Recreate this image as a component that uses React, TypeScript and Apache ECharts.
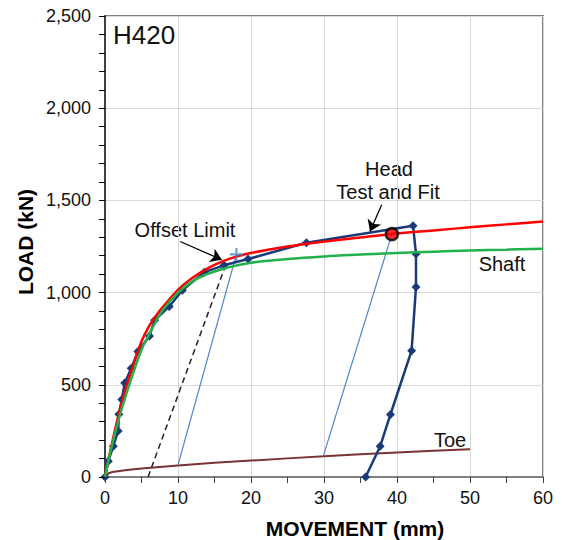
import React, { useEffect, useRef } from "react";
import * as echarts from "echarts";

// Head test data (movement mm, load kN)
const headX = [0, 0.45, 1.14, 1.8, 1.9, 2.3, 2.7, 3.6, 4.5, 6.1, 6.8, 8.8, 10.6, 13.6, 16.3, 19.6, 27.6, 42.2, 42.6, 42.6, 42.0, 39.1, 37.7, 35.7];
const headLoad = [0, 86, 167, 250, 340, 420, 510, 590, 680, 765, 850, 925, 1013, 1111, 1148, 1182, 1270, 1362, 1210, 1030, 685, 339, 167, 0];

// Fitted head curve
const fitX = [0, 0.5, 1, 2, 3, 4, 5, 6, 7, 8, 10, 12, 14, 16, 18, 20, 25, 30, 35, 40, 45, 50, 55, 60];
const fitLoad = [0, 100, 190, 360, 500, 620, 735, 815, 875, 925, 1015, 1080, 1130, 1168, 1195, 1215, 1250, 1277, 1299, 1320, 1337, 1354, 1370, 1386];

// Shaft curve
const shaftX = [0, 0.5, 1, 2, 3, 4, 5, 6, 7, 8, 10, 12, 14, 16, 18, 20, 25, 30, 35, 40, 45, 50, 55, 60];
const shaftLoad = [0, 95, 180, 330, 460, 580, 690, 770, 845, 910, 1000, 1062, 1100, 1127, 1147, 1162, 1182, 1196, 1206, 1215, 1222, 1228, 1233, 1238];

// Toe curve
const toeX = [0, 0.5, 1, 3, 5, 10, 15, 20, 25, 30, 35, 40, 45, 50];
const toeLoad = [0, 20, 27, 38, 46, 63, 77, 89, 101, 113, 123, 133, 142, 150];

// Offset limit line
const offsetX = [5.9, 16.4];
const offsetLoad = [0, 1135];

// Unloading lines (thin blue)
const unload1X = [10.0, 18.0];
const unload1Load = [64, 1207];
const unload2X = [29.9, 39.3];
const unload2Load = [113, 1317];

// Points
const offsetLimitPoint = [18.0, 1207];
const fitPoint = [39.3, 1317];

// Annotation arrows [from, to]
const offsetArrow = [[10.3, 1277], [16.0, 1178]];
const headArrow = [[37.9, 1476], [36.3, 1331]];

// Axis ticks
const xTicks = { min: 0, max: 60, interval: 10, minorInterval: 5 };
const yTicks = { min: 0, max: 2500, interval: 500, minorInterval: 100 };

const zip = (xs: number[], ys: number[]) => xs.map((x, i) => [x, ys[i]]);

const FONT = "'Liberation Sans', Arial, sans-serif";

export default function App() {
  const ref = useRef<HTMLDivElement>(null);
  useEffect(() => {
    const chart = echarts.init(ref.current!, null, { renderer: "svg" });
    chart.setOption({
      animation: false,
      backgroundColor: "#ffffff",
      grid: {
        left: 105,
        right: 19,
        top: 16,
        bottom: 63,
        show: true,
        borderColor: "#7f7f7f",
        borderWidth: 2,
        backgroundColor: "#ffffff",
      },
      xAxis: [
        {
          type: "value",
          min: xTicks.min,
          max: xTicks.max,
          interval: xTicks.interval,
          position: "bottom",
          axisLine: { show: true, onZero: false, lineStyle: { color: "#808080", width: 2 } },
          axisTick: { show: true, inside: false, length: 6, lineStyle: { color: "#404040", width: 1 } },
          splitLine: { show: true, lineStyle: { color: "#d9d9d9", width: 1 } },
          axisLabel: { fontFamily: FONT, fontSize: 18, color: "#111", margin: 12 },
        },
        {
          type: "value",
          min: xTicks.min,
          max: xTicks.max,
          interval: xTicks.minorInterval,
          position: "bottom",
          axisLine: { show: false },
          axisTick: { show: true, inside: false, length: 6, lineStyle: { color: "#404040", width: 1 } },
          splitLine: { show: false },
          axisLabel: { show: false },
          z: 5,
        },
      ],
      yAxis: [
        {
          type: "value",
          min: yTicks.min,
          max: yTicks.max,
          interval: yTicks.interval,
          position: "left",
          axisLine: { show: true, onZero: false, lineStyle: { color: "#404040", width: 2 } },
          axisTick: { show: true, inside: false, length: 6, lineStyle: { color: "#000", width: 1 } },
          splitLine: { show: true, lineStyle: { color: "#d9d9d9", width: 1 } },
          axisLabel: {
            fontFamily: FONT,
            fontSize: 18,
            color: "#111",
            margin: 14,
            formatter: (v: number) => v.toLocaleString("en-US"),
          },
        },
        {
          type: "value",
          min: yTicks.min,
          max: yTicks.max,
          interval: yTicks.minorInterval,
          position: "left",
          axisLine: { show: false },
          axisTick: { show: true, inside: false, length: 6, lineStyle: { color: "#000", width: 1 } },
          splitLine: { show: false },
          axisLabel: { show: false },
          z: 5,
        },
      ],
      series: [
        {
          name: "Toe",
          type: "line",
          data: zip(toeX, toeLoad),
          showSymbol: false,
          lineStyle: { color: "#7a3333", width: 2 },
          z: 2,
        },
        {
          name: "Unload1",
          type: "line",
          data: zip(unload1X, unload1Load),
          showSymbol: false,
          lineStyle: { color: "#4a86c8", width: 1.2 },
          z: 2,
        },
        {
          name: "Unload2",
          type: "line",
          data: zip(unload2X, unload2Load),
          showSymbol: false,
          lineStyle: { color: "#4a86c8", width: 1.2 },
          z: 2,
        },
        {
          name: "Offset",
          type: "line",
          data: zip(offsetX, offsetLoad),
          showSymbol: false,
          lineStyle: { color: "#222", width: 1.5, type: [6, 4] },
          z: 2,
        },
        {
          name: "Head",
          type: "line",
          data: zip(headX, headLoad),
          symbol: "diamond",
          symbolSize: 9,
          itemStyle: { color: "#1b3a78" },
          lineStyle: { color: "#1b3a78", width: 2.5 },
          z: 3,
        },
        {
          name: "Fit",
          type: "line",
          data: zip(fitX, fitLoad),
          showSymbol: false,
          smooth: 0.4,
          lineStyle: { color: "#ff0000", width: 2.5 },
          z: 4,
        },
        {
          name: "Shaft",
          type: "line",
          data: zip(shaftX, shaftLoad),
          showSymbol: false,
          smooth: 0.4,
          lineStyle: { color: "#22b14c", width: 2.5 },
          z: 4,
        },
        {
          name: "OffsetPoint",
          type: "scatter",
          data: [offsetLimitPoint],
          symbol: "path://M-1,-6H1V-1H6V1H1V6H-1V1H-6V-1H-1Z",
          symbolSize: 13,
          itemStyle: { color: "#4a86c8" },
          z: 6,
        },
        {
          name: "FitPoint",
          type: "scatter",
          data: [fitPoint],
          symbol: "circle",
          symbolSize: 12,
          itemStyle: { color: "#ff0000", borderColor: "#000", borderWidth: 2.5 },
          z: 6,
        },
        {
          name: "Arrows",
          type: "lines",
          coordinateSystem: "cartesian2d",
          symbol: ["none", "arrow"],
          symbolSize: 11,
          lineStyle: { color: "#000", width: 1.3, opacity: 1 },
          data: [{ coords: offsetArrow }, { coords: headArrow }],
          z: 7,
        },
      ],
      graphic: [
        {
          type: "text",
          x: 113,
          y: 35,
          style: { text: "H420", font: `26px ${FONT}`, fill: "#111", textAlign: "left", textVerticalAlign: "middle" },
        },
        {
          type: "text",
          x: 185,
          y: 230,
          style: { text: "Offset Limit", font: `20px ${FONT}`, fill: "#111", textAlign: "center", textVerticalAlign: "middle" },
        },
        {
          type: "text",
          x: 389,
          y: 169,
          style: { text: "Head", font: `20px ${FONT}`, fill: "#111", textAlign: "center", textVerticalAlign: "middle" },
        },
        {
          type: "text",
          x: 388,
          y: 192,
          style: { text: "Test and Fit", font: `20px ${FONT}`, fill: "#111", textAlign: "center", textVerticalAlign: "middle" },
        },
        {
          type: "text",
          x: 502,
          y: 264,
          style: { text: "Shaft", font: `20px ${FONT}`, fill: "#111", textAlign: "center", textVerticalAlign: "middle" },
        },
        {
          type: "text",
          x: 450,
          y: 440,
          style: { text: "Toe", font: `20px ${FONT}`, fill: "#111", textAlign: "center", textVerticalAlign: "middle" },
        },
        {
          type: "text",
          x: 355,
          y: 528,
          style: { text: "MOVEMENT (mm)", font: `bold 21px ${FONT}`, fill: "#000", textAlign: "center", textVerticalAlign: "middle" },
        },
        {
          type: "text",
          x: 25,
          y: 242,
          rotation: Math.PI / 2,
          style: { text: "LOAD (kN)", font: `bold 21px ${FONT}`, fill: "#000", textAlign: "center", textVerticalAlign: "middle" },
        },
      ],
    });
    return () => chart.dispose();
  }, []);
  return (
    <div
      ref={ref}
      style={{ position: "absolute", left: 0, top: 0, width: 562, height: 540 }}
    />
  );
}
